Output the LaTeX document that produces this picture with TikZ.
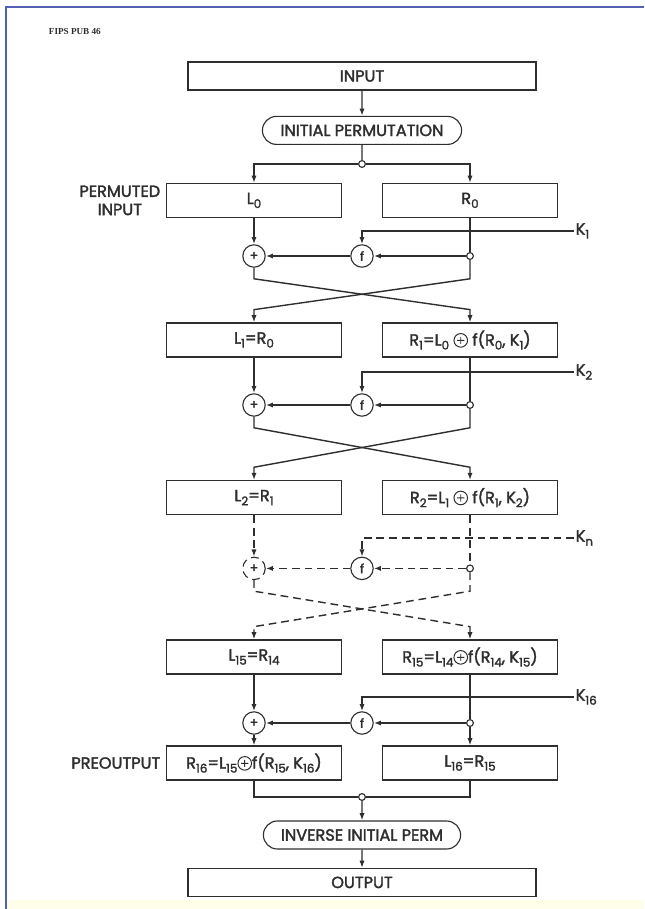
\documentclass[tikz,border=0pt]{standalone}
\usepackage{fontspec}
\setmainfont{Poppins}[FakeBold=2]
\newfontfamily\fipsfont{Liberation Serif}
\usetikzlibrary{arrows.meta,positioning,shapes.misc}

\definecolor{ink}{HTML}{2E2E2E}
\definecolor{frameblue}{HTML}{5361B5}

\newcommand{\ix}[1]{\raisebox{-0.45ex}{\fontsize{8.5}{9}\selectfont #1}}
\newcommand{\xorsign}{\tikz[baseline=-0.13cm]\draw[line width=0.7pt] (0,0) circle (0.17cm)
    (-0.09,0) -- (0.09,0) (0,-0.09) -- (0,0.09);}

\begin{document}
\begin{tikzpicture}[
    font=\fontsize{11.5}{13}\selectfont,
    box/.style={draw=ink, rectangle, line width=0.8pt, align=center, text=ink,
                minimum width=4.375cm, minimum height=0.85cm, inner sep=1pt},
    wide/.style={box, minimum width=8.7cm, minimum height=0.7cm},
    permbox/.style={draw=ink, rounded rectangle, line width=0.8pt, text=ink,
                minimum width=5.05cm, minimum height=0.7cm, inner sep=1pt},
    xor/.style={draw=ink, circle, line width=0.8pt, text=ink,
                minimum size=0.56cm, inner sep=0pt, font=\small},
    jdot/.style={draw=ink, circle, fill=white, line width=0.8pt,
                minimum size=0.17cm, inner sep=0pt},
    klabel/.style={anchor=west, inner sep=1pt, text=ink},
    sidelabel/.style={align=center, text=ink, inner sep=1pt},
    wire/.style={line width=1pt, draw=ink},
    arrow/.style={-{Latex[length=1.8mm,width=1.3mm]}, line width=1pt, draw=ink},
    dashline/.style={dash pattern=on 5.5pt off 3.5pt}
]
\useasboundingbox (0,0) rectangle (16.1,-22.725);
\fill[yellow!8] (0.15,-22.5) rectangle (16.1,-22.725);
\draw[frameblue, line width=1.3pt] (16.1,-0.175) -- (0.15,-0.175) -- (0.15,-22.725);

\node[anchor=west, text=ink, font=\fipsfont\bfseries\fontsize{6.5}{7}\selectfont] (fips) at (1.1,-0.8) {FIPS PUB 46};

\node[wide]    (input)    at (9.05,-1.9)  {INPUT};
\node[permbox] (initperm) at (9.05,-3.26) {INITIAL PERMUTATION};
\node[jdot]    (split)    at (9.05,-4.1)  {};

% round 1
\node[box] (l0) at (6.35,-5.01)  {L\ix{0}};
\node[box] (r0) at (11.75,-5.01) {R\ix{0}};
\node[sidelabel, left=0.1cm of l0] (permlbl) {PERMUTED\\INPUT};
\node[klabel] (k1) at (14.35,-5.775) {K\ix{1}};
\node[xor]  (x0) at (6.35,-6.4)  {+};
\node[xor]  (f0) at (9.05,-6.4)  {f};
\node[jdot] (j0) at (11.75,-6.4) {};

% round 2
\node[box] (l1) at (6.35,-8.5)  {L\ix{1}=R\ix{0}};
\node[box] (r1) at (11.75,-8.5) {R\ix{1}=L\ix{0} \xorsign{} f(R\ix{0}, K\ix{1})};
\node[klabel] (k2) at (14.35,-9.3) {K\ix{2}};
\node[xor]  (x1) at (6.35,-10.125)  {+};
\node[xor]  (f1) at (9.05,-10.125)  {f};
\node[jdot] (j1) at (11.75,-10.125) {};

% round n
\node[box] (l2) at (6.35,-12.44)  {L\ix{2}=R\ix{1}};
\node[box] (r2) at (11.75,-12.44) {R\ix{2}=L\ix{1} \xorsign{} f(R\ix{1}, K\ix{2})};
\node[klabel] (kn) at (14.35,-13.45) {K\ix{n}};
\node[xor, dashline] (x2) at (6.35,-14.21)  {+};
\node[xor]  (f2) at (9.05,-14.21)  {f};
\node[jdot] (j2) at (11.75,-14.21) {};

% round 16
\node[box] (l15) at (6.35,-16.425)  {L\ix{15}=R\ix{14}};
\node[box] (r15) at (11.75,-16.425) {R\ix{15}=L\ix{14}\xorsign f(R\ix{14}, K\ix{15})};
\node[klabel] (k16) at (14.35,-17.425) {K\ix{16}};
\node[xor]  (x15) at (6.35,-18.075)  {+};
\node[xor]  (f15) at (9.05,-18.075)  {f};
\node[jdot] (j15) at (11.75,-18.075) {};

\node[box] (r16) at (6.35,-19.075)  {R\ix{16}=L\ix{15}\xorsign f(R\ix{15}, K\ix{16})};
\node[box] (l16) at (11.75,-19.075) {L\ix{16}=R\ix{15}};
\node[sidelabel, left=0.1cm of r16] (prelbl) {PREOUTPUT};
\node[jdot] (merge) at (9.05,-19.925) {};

\node[permbox, minimum width=5cm] (invperm) at (9.05,-20.875) {INVERSE INITIAL PERM};
\node[wide] (output) at (9.05,-22.06) {OUTPUT};

\draw[arrow] (input) -- (initperm);
\draw[wire]  (initperm) -- (split);
\draw[arrow] (split) -| (l0);
\draw[arrow] (split) -| (r0);

\draw[arrow] (l0) -- (x0);
\draw[wire]  (r0) -- (j0);
\draw[arrow] (j0) -- (f0);
\draw[arrow] (f0) -- (x0);
\draw[arrow] (k1) -| (f0);
\draw[arrow] (x0) -- ++(0,-0.57) -- ([yshift=3.2mm]r1.north) -- (r1);
\draw[arrow] (j0) -- ++(0,-0.57) -- ([yshift=3.2mm]l1.north) -- (l1);

\draw[arrow] (l1) -- (x1);
\draw[wire]  (r1) -- (j1);
\draw[arrow] (j1) -- (f1);
\draw[arrow] (f1) -- (x1);
\draw[arrow] (k2) -| (f1);
\draw[arrow] (x1) -- ++(0,-0.57) -- ([yshift=3.2mm]r2.north) -- (r2);
\draw[arrow] (j1) -- ++(0,-0.57) -- ([yshift=3.2mm]l2.north) -- (l2);

\draw[arrow, dashline] (l2) -- (x2);
\draw[wire, dashline]  (r2) -- (j2);
\draw[arrow, dashline] (j2) -- (f2);
\draw[arrow, dashline] (f2) -- (x2);
\draw[arrow, dashline] (kn) -| (f2);
\draw[arrow, dashline] (x2) -- ++(0,-0.57) -- ([yshift=3.2mm]r15.north) -- (r15);
\draw[arrow, dashline] (j2) -- ++(0,-0.57) -- ([yshift=3.2mm]l15.north) -- (l15);

\draw[arrow] (l15) -- (x15);
\draw[wire]  (r15) -- (j15);
\draw[arrow] (j15) -- (f15);
\draw[arrow] (f15) -- (x15);
\draw[arrow] (k16) -| (f15);
\draw[arrow] (x15) -- (r16);
\draw[arrow] (j15) -- (l16);

\draw[wire]  (r16) |- (merge);
\draw[wire]  (l16) |- (merge);
\draw[arrow] (merge) -- (invperm);
\draw[arrow] (invperm) -- (output);
\end{tikzpicture}
\end{document}
